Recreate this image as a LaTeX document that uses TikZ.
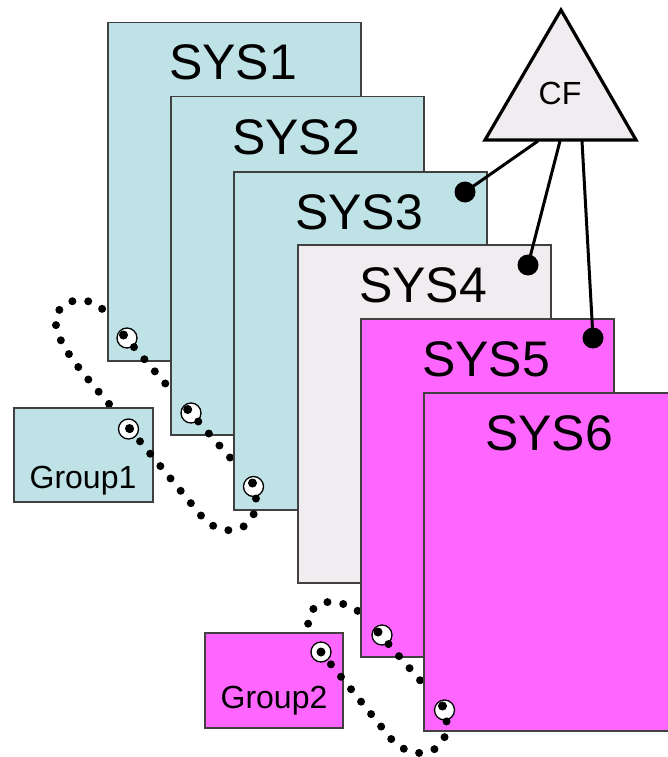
\documentclass[tikz,border=0pt]{standalone}
\usepackage{fontspec}
\setmainfont{Liberation Sans}
\definecolor{cardblue}{RGB}{190,226,230}
\definecolor{cardpink}{RGB}{255,102,255}
\definecolor{cardgrey}{RGB}{240,236,240}
\definecolor{cardline}{RGB}{64,64,64}
\begin{document}
\begin{tikzpicture}[x=1pt,y=-1pt,
  card/.style={draw=cardline, line width=1.5pt, anchor=north west, inner sep=0pt,
    minimum width=253pt, minimum height=338pt},
  groupbox/.style={draw=cardline, line width=1.5pt, anchor=north west, inner sep=0pt,
    minimum width=139pt, minimum height=95pt},
  cardtitle/.style={anchor=base, font=\fontsize{50}{50}\selectfont},
  grouptitle/.style={anchor=base, font=\fontsize{32}{32}\selectfont},
  eye/.style={circle, fill=white, draw=black, line width=1.3pt, minimum size=20pt, inner sep=0pt},
  pupil/.style={circle, fill=black, minimum size=9pt, inner sep=0pt},
  thread/.style={draw=black, line width=8pt, line cap=round, dash pattern=on 0pt off 16pt},
  pin/.style={circle, fill=black, minimum size=21pt, inner sep=0pt},
  link/.style={draw=black, line width=3pt},
]
\useasboundingbox (0,0) rectangle (667,757);

% points where each thread comes out of its eye
\coordinate (p1) at (123.5,335);
\coordinate (p2) at (187.7,409.5);
\coordinate (p3) at (252.5,483);
\coordinate (pg1) at (129.5,428.5);
\coordinate (p5) at (378,632);
\coordinate (p6) at (442.5,706);
\coordinate (pg2) at (321,652);

% first thread: back loop from Group1 to SYS1
\draw[thread] (pg1) .. controls (95,385) and (52,345) .. (56,318)
  .. controls (60,296) and (92,295) .. (105,312) -- (p1);

\node[card, fill=cardblue] (sys1) at (107,22) {};
\node[cardtitle] (t1) at (233,80) {SYS1};
\node[eye] (e1) at (127,338) {};
\node[groupbox, fill=cardblue, minimum height=94pt] (grp1) at (13,407) {};
\node[grouptitle] (tg1) at (83,488) {Group1};
\node[eye] (eg1) at (128.5,429) {};

\draw[thread] (p1) -- (p2);

\node[card, fill=cardblue] (sys2) at (170,96) {};
\node[cardtitle] (t2) at (296,154) {SYS2};
\node[eye] (e2) at (191,413) {};

\draw[thread] (p2) -- (p3);

\node[card, fill=cardblue] (sys3) at (233,171) {};
\node[cardtitle] (t3) at (359,229) {SYS3};
\node[eye] (e3) at (253.5,486.5) {};

% thread from SYS3 round the bottom to Group1
\draw[thread] (p3) .. controls (268,525) and (230,545) .. (203,518) -- (pg1);

\node[card, fill=cardgrey] (sys4) at (297,244) {};
\node[cardtitle] (t4) at (423,302) {SYS4};

% second thread: back loop from Group2 to SYS5
\draw[thread] (pg2) .. controls (300,632) and (305,600) .. (333,602)
  .. controls (355,604) and (368,618) .. (p5);

\node[card, fill=cardpink] (sys5) at (360,318) {};
\node[cardtitle] (t5) at (486,376) {SYS5};
\node[eye] (e5) at (382,635) {};
\node[groupbox, fill=cardpink, minimum width=138pt] (grp2) at (204,632) {};
\node[grouptitle] (tg2) at (274,708) {Group2};
\node[eye] (eg2) at (321,652) {};

\draw[thread] (p5) -- (p6);

\node[card, fill=cardpink] (sys6) at (423,392) {};
\node[cardtitle] (t6) at (549,450) {SYS6};
\node[eye] (e6) at (444.5,710) {};

% thread from SYS6 round the bottom to Group2
\draw[thread] (p6) .. controls (460,748) and (420,768) .. (392,740) -- (pg2);

% pupils
\foreach \p in {p1,p2,p3,pg1,p5,p6,pg2}
  \node[pupil] (\p-dot) at (\p) {};

% coupling facility
\coordinate (apex) at (561,10);
\coordinate (bl) at (485,140);
\coordinate (br) at (636,140);
\draw[fill=cardgrey, line width=3.2pt, line join=miter] (apex) -- (bl) -- (br) -- cycle;
\node[grouptitle] (cf) at (560,105) {CF};

\coordinate (b1) at (538,141);
\coordinate (b2) at (560,141);
\coordinate (b3) at (582,141);
\node[pin] (pin3) at (465,192) {};
\node[pin] (pin4) at (528,265) {};
\node[pin] (pin5) at (593,338) {};
\draw[link] (b1) -- (pin3.center);
\draw[link] (b2) -- (pin4.center);
\draw[link] (b3) -- (pin5.center);
\end{tikzpicture}
\end{document}
